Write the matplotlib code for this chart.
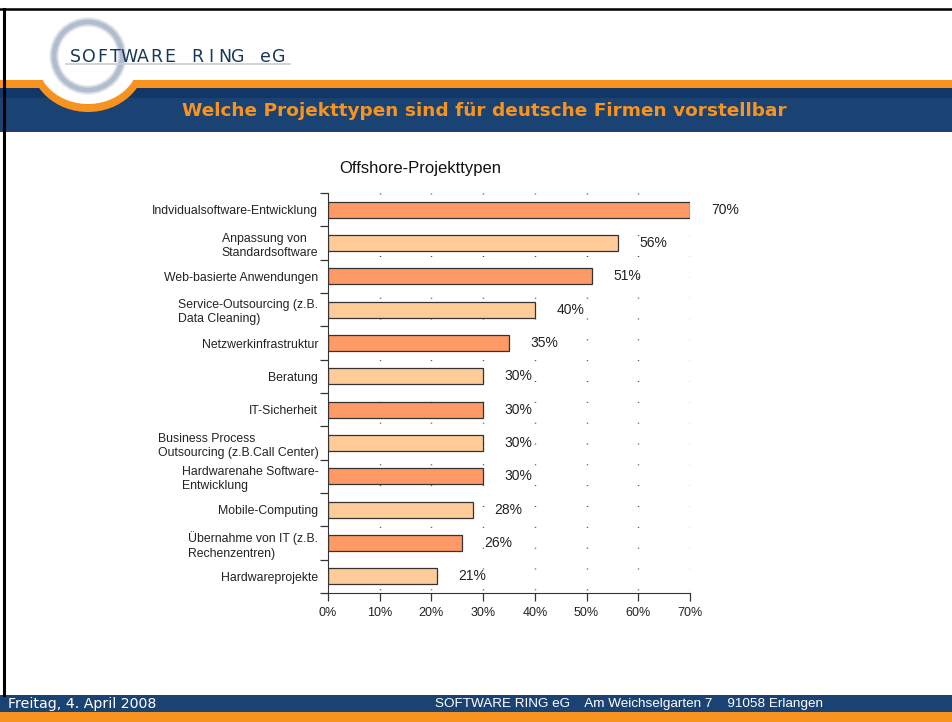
import matplotlib
matplotlib.use("Agg")
import matplotlib.pyplot as plt
from matplotlib.patches import Rectangle, Ellipse, Circle

# ---------------- DATA ----------------
categories = [
    "Indvidualsoftware-Entwicklung",
    "Anpassung von\nStandardsoftware",
    "Web-basierte Anwendungen",
    "Service-Outsourcing (z.B.\nData Cleaning)",
    "Netzwerkinfrastruktur",
    "Beratung",
    "IT-Sicherheit",
    "Business Process\nOutsourcing (z.B.Call Center)",
    "Hardwarenahe Software-\nEntwicklung",
    "Mobile-Computing",
    "Übernahme von IT (z.B.\nRechenzentren)",
    "Hardwareprojekte",
]
values = [70, 56, 51, 40, 35, 30, 30, 30, 30, 28, 26, 21]
x_ticks = [0, 10, 20, 30, 40, 50, 60, 70]
x_tick_labels = ["0%", "10%", "20%", "30%", "40%", "50%", "60%", "70%"]

chart_title = "Offshore-Projekttypen"
slide_title = "Welche Projekttypen sind für deutsche Firmen vorstellbar"
logo_text = "SOFTWARE RING eG"
footer_left = "Freitag, 4. April 2008"
footer_right = "SOFTWARE RING eG    Am Weichselgarten 7    91058 Erlangen"

DARK_BAR = "#FF9966"
LIGHT_BAR = "#FFCC99"
BLUE = "#1A4272"
ORANGE = "#F7931E"

plt.rcParams["font.family"] = ["Liberation Sans", "DejaVu Sans"]

W, H = 952, 722
fig = plt.figure(figsize=(W / 100, H / 100), dpi=100)
fig.patch.set_facecolor("white")

# ---------------- SLIDE DECORATION (pixel coords) ----------------
bg = fig.add_axes([0, 0, 1, 1])
bg.set_xlim(0, W)
bg.set_ylim(H, 0)
bg.axis("off")

# header bands
bg.add_patch(Rectangle((0, 88), W, 44, color=BLUE, lw=0))
bg.add_patch(Rectangle((0, 88), W, 10, color="#123766", lw=0))
bg.add_patch(Rectangle((0, 80), W, 8, color=ORANGE, lw=0))
# swoop under the logo
bg.add_patch(Ellipse((88, 60), 116, 104, color=ORANGE, lw=0))
bg.add_patch(Rectangle((0, 0), W, 80, color="white", lw=0))
bg.add_patch(Ellipse((88, 60), 102, 88, color="white", lw=0))

# logo ring (soft)
for lw, a in [(7, 0.25), (5, 0.45), (3.2, 0.8)]:
    bg.add_patch(Circle((88, 56), 34, fill=False, lw=lw, ec="#A9B8CA", alpha=a))

# logo text, letter spaced
for i, ch in enumerate(logo_text):
    bg.text(75 + i * 13.6, 57, ch, fontsize=12.5, color="#16365A",
            ha="center", va="center", family="DejaVu Sans")
bg.plot([66, 290], [64, 64], color="#C8CDD3", lw=1.2)

bg.text(182, 111, slide_title, fontsize=13.3, fontweight="bold",
        color=ORANGE, ha="left", va="center", family="DejaVu Sans")

# frame lines
bg.plot([0, W], [9, 9], color="black", lw=1.8)
bg.plot([4, 4], [9, 695], color="black", lw=2.2)

# footer
bg.add_patch(Rectangle((0, 695), W, 17, color=BLUE, lw=0))
bg.add_patch(Rectangle((0, 712), W, 10, color=ORANGE, lw=0))
bg.text(8, 704, footer_left, fontsize=10.2, color="white", ha="left", va="center",
        family="DejaVu Sans")
bg.text(435, 704, footer_right, fontsize=9.7, color="white", ha="left", va="center")

# ---------------- CHART ----------------
ax = fig.add_axes([328 / W, (H - 593) / H, 362 / W, 400 / H])
n = len(categories)
ypos = list(range(n))
colors = [DARK_BAR if i % 2 == 0 else LIGHT_BAR for i in range(n)]

for x in x_ticks[1:]:
    ax.plot([x, x], [-0.5, n - 0.5], color="#444444", lw=1,
            linestyle=(0, (0.7, 14.3)), zorder=1)

ax.barh(ypos, values, height=0.48, color=colors, edgecolor="#333333",
        linewidth=0.9, zorder=2)

for y, v in zip(ypos, values):
    ax.text(v + 4.2, y, f"{v}%", fontsize=10, color="#222222",
            ha="left", va="center", zorder=3)

ax.set_xlim(0, 70)
ax.set_ylim(n - 0.5, -0.5)
ax.set_xticks(x_ticks)
ax.set_xticklabels(x_tick_labels, fontsize=9, color="#222222")
ax.set_yticks([i - 0.5 for i in range(n + 1)])
ax.set_yticklabels([])
ax.set_yticks(ypos, minor=True)
ax.set_yticklabels(categories, minor=True, fontsize=8.8, color="#222222",
                   multialignment="left", linespacing=1.25)
ax.tick_params(axis="y", which="minor", length=0, pad=7)
ax.tick_params(axis="y", which="major", length=6, width=0.9, color="#333333")
ax.tick_params(axis="x", length=6, width=0.9, color="#333333", pad=4)
ax.spines["top"].set_visible(False)
ax.spines["right"].set_visible(False)
ax.spines["left"].set_color("#333333")
ax.spines["bottom"].set_color("#333333")
ax.patch.set_alpha(0)

fig.text(420 / W, 1 - 168 / H, chart_title, fontsize=12, color="#111111",
         ha="center", va="center")

fig.savefig("out.png", dpi=100)
